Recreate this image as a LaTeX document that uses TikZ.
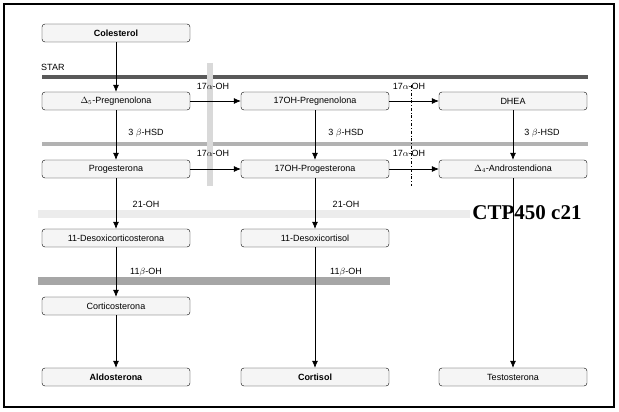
\documentclass[tikz,border=0pt]{standalone}
\usepackage{fontspec}
\setmainfont{Liberation Sans}
\newfontfamily\serifb{Liberation Serif}
\usetikzlibrary{arrows.meta}
\begin{document}
\begin{tikzpicture}[x=1pt,y=-1pt,
 box/.style={draw,rounded corners=3pt,fill=gray!8,minimum width=148pt,minimum height=18pt,inner sep=0pt,font=\fontsize{9}{10}\selectfont},
 bbox/.style={box,font=\fontsize{9}{10}\selectfont\bfseries},
 arr/.style={-{Latex[length=7pt,width=6pt]},line width=0.6pt},
 lab/.style={font=\fontsize{9}{10}\selectfont,inner sep=1pt}]
\useasboundingbox (0,0) rectangle (619,412);
\draw[line width=1.5pt] (4,4) rectangle (614,407);
% bars
\draw[line width=4pt,gray!70!black] (42,77) -- (588,77);
\node[lab,anchor=west] (star) at (40,67) {STAR};
\draw[line width=4pt,gray!60] (42,144) -- (588,144);
\draw[line width=8pt,gray!15] (38,214) -- (470,214);
\draw[line width=8pt,gray!70] (38,281) -- (390,281);
\draw[line width=6pt,gray!30] (210,63) -- (210,186);
\draw[line width=0.6pt,dash dot] (411,85) -- (411,186);
% nodes
\node[bbox] (col) at (116,33) {Colesterol};
\node[box] (preg) at (116,101) {$\Delta_5$-Pregnenolona};
\node[box] (opreg) at (315,101) {17OH-Pregnenolona};
\node[box] (dhea) at (513,101) {DHEA};
\node[box] (prog) at (116,169) {Progesterona};
\node[box] (oprog) at (315,169) {17OH-Progesterona};
\node[box] (andro) at (513,169) {$\Delta_4$-Androstendiona};
\node[box] (doc) at (116,238) {11-Desoxicorticosterona};
\node[box] (dcort) at (315,238) {11-Desoxicortisol};
\node[box] (corti) at (116,306) {Corticosterona};
\node[bbox] (aldo) at (116,377) {Aldosterona};
\node[bbox] (cort) at (315,377) {Cortisol};
\node[box] (testo) at (513,377) {Testosterona};
\node[font=\serifb\fontsize{21}{22}\selectfont\bfseries] (ctp) at (527,213) {CTP450 c21};
% arrows
\draw[arr] (col) -- (preg);
\draw[arr] (preg) -- (opreg);
\draw[arr] (opreg) -- (dhea);
\draw[arr] (prog) -- (oprog);
\draw[arr] (oprog) -- (andro);
\draw[arr] (preg) -- (prog);
\draw[arr] (opreg) -- (oprog);
\draw[arr] (dhea) -- (andro);
\draw[arr] (prog) -- (doc);
\draw[arr] (oprog) -- (dcort);
\draw[arr] (andro) -- (testo);
\draw[arr] (doc) -- (corti);
\draw[arr] (corti) -- (aldo);
\draw[arr] (dcort) -- (cort);
% labels
\node[lab] (l1) at (213,86) {17$\alpha$-OH};
\node[lab] (l2) at (409,86) {17$\alpha$-OH};
\node[lab] (l3) at (213,153) {17$\alpha$-OH};
\node[lab] (l4) at (409,153) {17$\alpha$-OH};
\node[lab] (h1) at (146,133) {3 $\beta$-HSD};
\node[lab] (h2) at (346,133) {3 $\beta$-HSD};
\node[lab] (h3) at (542,133) {3 $\beta$-HSD};
\node[lab] (o1) at (146,204) {21-OH};
\node[lab] (o2) at (346,204) {21-OH};
\node[lab] (b1) at (146,272) {11$\beta$-OH};
\node[lab] (b2) at (346,272) {11$\beta$-OH};
\end{tikzpicture}
\end{document}
